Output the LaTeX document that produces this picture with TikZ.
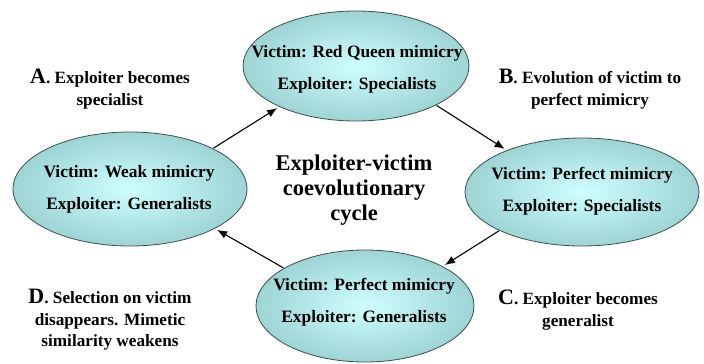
\documentclass[tikz,border=0pt]{standalone}
\usepackage{fontspec}
\setmainfont{Liberation Serif}
\usetikzlibrary{shapes.geometric,arrows.meta}
\definecolor{ellin}{RGB}{206,255,255}
\definecolor{ellout}{RGB}{158,212,212}
\definecolor{elldraw}{RGB}{60,80,80}
\tikzset{
  cyc/.style={ellipse, draw=elldraw, line width=0.8pt, inner color=ellin, outer color=ellout,
    inner sep=0pt, outer sep=0pt},
  cyctext/.style={align=center, inner sep=0pt, font=\fontsize{17.4}{32}\selectfont\bfseries},
  lab/.style={align=center, font=\fontsize{17.2}{21.5}\selectfont\bfseries, inner sep=0pt},
  flow/.style={-{Latex[length=10pt,width=8pt]}, line width=1.1pt, black},
}
\newcommand{\biglet}[1]{{\fontsize{22}{22}\selectfont #1}}
\begin{document}
\begin{tikzpicture}[x=1pt,y=-1pt]
\useasboundingbox (0,0) rectangle (704,364);
\node[cyc, minimum width=226pt, minimum height=110pt] (top) at (356,66) {};
\node[cyc, minimum width=234pt, minimum height=114pt] (left) at (130,189) {};
\node[cyc, minimum width=234pt, minimum height=108pt] (right) at (582,192) {};
\node[cyc, minimum width=218pt, minimum height=112pt] (bot) at (365,306) {};
\node[cyctext] (topt) at (357,69) {Victim: Red Queen mimicry\\Exploiter: Specialists};
\node[cyctext] (leftt) at (129,189) {Victim: Weak mimicry\\Exploiter: Generalists};
\node[cyctext] (rightt) at (582,191) {Victim: Perfect mimicry\\Exploiter: Specialists};
\node[cyctext] (bott) at (364,302) {Victim: Perfect mimicry\\Exploiter: Generalists};
\node[align=center, font=\fontsize{22.5}{25}\selectfont\bfseries, inner sep=0pt] (title) at (354,190)
  {Exploiter-victim\\coevolutionary\\cycle};
\node[lab] (la) at (110,89) {\biglet{A}. Exploiter becomes\\specialist};
\node[lab] (lb) at (590,89) {\biglet{B}. Evolution of victim to\\perfect mimicry};
\node[lab] (lc) at (578,310) {\biglet{C}. Exploiter becomes\\generalist};
\node[lab] (ld) at (110,320) {\biglet{D}. Selection on victim\\disappears. Mimetic\\similarity weakens};
\draw[flow, shorten <=1pt, shorten >=3pt] (left.26) -- (top.208);
\draw[flow, shorten <=1pt, shorten >=3pt] (top.334) -- (right.151);
\draw[flow, shorten <=1pt, shorten >=3pt] (right.205) -- (bot.27);
\draw[flow, shorten <=1pt, shorten >=3pt] (bot.155) -- (left.335);
\end{tikzpicture}
\end{document}
